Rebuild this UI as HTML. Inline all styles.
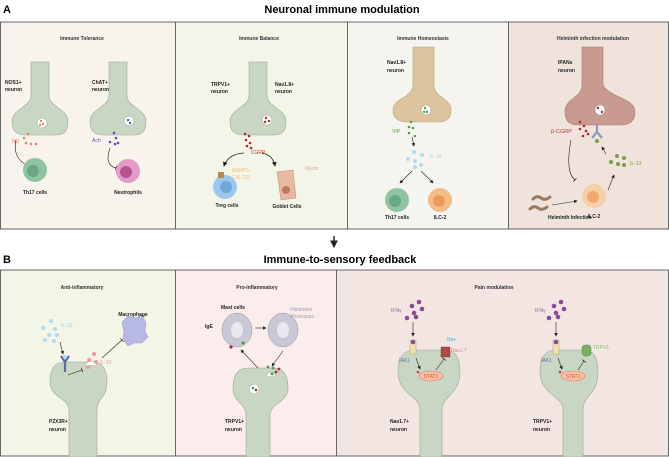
<!DOCTYPE html>
<html><head><meta charset="utf-8"><style>
html,body{margin:0;padding:0;background:#fff}
svg{display:block;font-family:"Liberation Sans",Arial,sans-serif}
.t{font-size:5px;font-weight:bold;fill:#222}
.h{font-size:5px;font-weight:bold;fill:#333}
</style></head><body>
<svg width="669" height="457" viewBox="0 0 669 457" xmlns="http://www.w3.org/2000/svg">
<defs>
<marker id="ar" markerWidth="6" markerHeight="6" refX="5" refY="3" orient="auto"><path d="M0,0 L6,3 L0,6 Z" fill="#222"/></marker>
<marker id="tb" markerWidth="4" markerHeight="8" refX="2" refY="4" orient="auto"><path d="M2,0 L2,8" stroke="#222" stroke-width="1.2"/></marker>
</defs>
<text x="3" y="13" font-size="11" font-weight="bold">A</text>
<text x="342" y="13" font-size="11" font-weight="bold" text-anchor="middle">Neuronal immune modulation</text>
<line x1="334" y1="236" x2="334" y2="247" stroke="#111" stroke-width="1.3" marker-end="url(#ar)"/>
<text x="3" y="263" font-size="11" font-weight="bold">B</text>
<text x="340" y="263" font-size="11" font-weight="bold" text-anchor="middle">Immune-to-sensory feedback</text>

<rect x="0.5" y="22" width="175" height="207" fill="#f8f3ec" stroke="#666"/>
<rect x="175.5" y="22" width="172" height="207" fill="#f4f5e9" stroke="#666"/>
<rect x="347.5" y="22" width="161" height="207" fill="#f5f4ee" stroke="#666"/>
<rect x="508.5" y="22" width="160" height="207" fill="#efe3dc" stroke="#666"/>
<rect x="0.5" y="270" width="175" height="186" fill="#f3f5e6" stroke="#666"/>
<rect x="175.5" y="270" width="161" height="186" fill="#fbedeb" stroke="#666"/>
<rect x="336.5" y="270" width="332" height="186" fill="#f2e5e2" stroke="#666"/>

<text class="h" x="82" y="40" text-anchor="middle">Immune Tolerance</text>
<text class="h" x="259" y="40" text-anchor="middle">Immune Balance</text>
<text class="h" x="423" y="40" text-anchor="middle">Immune Homeostasis</text>
<text class="h" x="593" y="40" text-anchor="middle">Helminth infection modulation</text>
<text class="h" x="82" y="289" text-anchor="middle">Anti-inflammatory</text>
<text class="h" x="257" y="289" text-anchor="middle">Pro-inflammatory</text>
<text class="h" x="494" y="289" text-anchor="middle">Pain modulation</text>

<g stroke="#9aa894" stroke-width="0.6" fill="#c9d6c3">
<path d="M31,62 L31,95 C31,108 12,108 12,122 Q12,135 26,135 L56,135 Q68,135 68,122 C68,108 49,108 49,95 L49,62 Z"/>
<path d="M109,62 L109,95 C109,108 90,108 90,122 Q90,135 104,135 L134,135 Q146,135 146,122 C146,108 127,108 127,95 L127,62 Z"/>
<path d="M249,62 L249,95 C249,108 230,108 230,122 Q230,135 244,135 L274,135 Q286,135 286,122 C286,108 267,108 267,95 L267,62 Z"/>
</g>
<path d="M413,47 L413,85 C413,98 393,98 393,110 Q393,122 408,122 L438,122 Q451,122 451,110 C451,98 434,98 434,85 L434,47 Z" fill="#dcc49e" stroke="#b9a07a" stroke-width="0.6"/>
<path d="M582,47 L582,85 C582,98 565,98 565,112 Q565,125 578,125 L620,125 Q635,125 635,112 C635,98 610,98 603,85 L603,47 Z" fill="#c99a8f" stroke="#a87a70" stroke-width="0.6"/>
<g stroke="#9aa894" stroke-width="0.6" fill="#c9d6c3">
<path d="M69,457 L69,410 C69,398 50,398 50,382 Q50,362 65,362 L92,362 Q107,362 107,382 C107,398 97,398 97,410 L97,457 Z"/>
<path d="M246,457 L246,415 C246,403 233,403 233,388 Q233,368 248,368 L273,368 Q288,368 288,388 C288,403 270,403 270,415 L270,457 Z"/>
<path d="M420,457 L420,410 C420,395 398,395 398,372 Q398,350 415,350 L445,350 Q460,350 460,372 C460,395 442,395 442,410 L442,457 Z"/>
<path d="M563,457 L563,410 C563,395 540,395 540,372 Q540,350 556,350 L584,350 Q598,350 598,372 C598,395 583,395 583,410 L583,457 Z"/>
</g>

<text class="t" x="5" y="84">NOS1+</text><text class="t" x="5" y="91">neuron</text>
<text class="t" x="92" y="84">ChAT+</text><text class="t" x="92" y="91">neuron</text>
<text class="t" x="211" y="86">TRPV1+</text><text class="t" x="211" y="93">neuron</text>
<text class="t" x="275" y="86">Nav1.8+</text><text class="t" x="275" y="93">neuron</text>
<text class="t" x="387" y="64">Nav1.8+</text><text class="t" x="387" y="72">neuron</text>
<text class="t" x="558" y="64">IPANs</text><text class="t" x="558" y="72">neuron</text>
<text class="t" x="49" y="423">P2X3R+</text><text class="t" x="49" y="431">neuron</text>
<text class="t" x="225" y="423">TRPV1+</text><text class="t" x="225" y="431">neuron</text>
<text class="t" x="390" y="423">Nav1.7+</text><text class="t" x="390" y="431">neuron</text>
<text class="t" x="533" y="423">TRPV1+</text><text class="t" x="533" y="431">neuron</text>

<g fill="#fff" stroke="#999" stroke-width="0.5">
<circle cx="42" cy="123" r="5"/><circle cx="129" cy="121" r="5"/><circle cx="267" cy="120" r="5"/>
<circle cx="426" cy="110" r="5"/><circle cx="600" cy="110" r="5"/>
<circle cx="254" cy="389" r="5"/>
</g>
<g fill="#e8875a"><circle cx="41" cy="121" r="1.2"/><circle cx="43" cy="124" r="1.2"/><circle cx="40" cy="125" r="1.2"/>
<circle cx="28" cy="134" r="1.3"/><circle cx="24" cy="138" r="1.3"/><circle cx="26" cy="143" r="1.3"/><circle cx="31" cy="144" r="1.3"/><circle cx="36" cy="144" r="1.3"/></g>
<text x="12" y="143" font-size="5" fill="#e8875a">NO</text>
<g fill="#4a55c0"><circle cx="128" cy="120" r="1.2"/><circle cx="130" cy="123" r="1.2"/>
<circle cx="114" cy="133" r="1.3"/><circle cx="116" cy="138" r="1.3"/><circle cx="110" cy="142" r="1.3"/><circle cx="115" cy="144" r="1.3"/><circle cx="118" cy="143" r="1.3"/></g>
<text x="92" y="142" font-size="5" fill="#4a55c0">Ach</text>
<g fill="#b02a2a"><circle cx="266" cy="118" r="1.2"/><circle cx="269" cy="121" r="1.2"/><circle cx="265" cy="122" r="1.2"/>
<circle cx="245" cy="134" r="1.3"/><circle cx="249" cy="136" r="1.3"/><circle cx="246" cy="140" r="1.3"/><circle cx="250" cy="143" r="1.3"/><circle cx="247" cy="146" r="1.3"/><circle cx="251" cy="148" r="1.3"/></g>
<text x="258" y="154" font-size="5" fill="#c0392b" text-anchor="middle">CGRP</text>
<g fill="#5aa040"><circle cx="425" cy="108" r="1.2"/><circle cx="427" cy="112" r="1.2"/><circle cx="424" cy="112" r="1.2"/>
<circle cx="411" cy="122" r="1.3"/><circle cx="409" cy="127" r="1.3"/><circle cx="413" cy="128" r="1.3"/><circle cx="409" cy="133" r="1.3"/><circle cx="415" cy="136" r="1.3"/></g>
<text x="392" y="133" font-size="5" fill="#5aa040">VIP</text>
<g fill="#aedcf0"><circle cx="414" cy="152" r="2"/><circle cx="422" cy="155" r="2"/><circle cx="408" cy="159" r="2"/><circle cx="415" cy="161" r="2"/><circle cx="415" cy="167" r="2"/><circle cx="421" cy="165" r="2"/></g>
<text x="430" y="158" font-size="5" fill="#9ad0ea">IL-10</text>
<line x1="412" y1="137" x2="414" y2="146" stroke="#222" stroke-width="0.6" marker-end="url(#ar)"/>
<line x1="412" y1="171" x2="400" y2="183" stroke="#222" stroke-width="0.6" marker-end="url(#ar)"/>
<line x1="421" y1="171" x2="433" y2="183" stroke="#222" stroke-width="0.6" marker-end="url(#ar)"/>

<path d="M16,140 Q12,158 28,166" fill="none" stroke="#222" stroke-width="0.6" marker-end="url(#tb)"/>
<circle cx="35" cy="170" r="12" fill="#8fc4a0"/><circle cx="33" cy="171" r="6" fill="#6aa884"/>
<text class="t" x="35" y="194" text-anchor="middle">Th17 cells</text>
<path d="M110,148 Q104,165 116,168" fill="none" stroke="#222" stroke-width="0.6" marker-end="url(#tb)"/>
<circle cx="128" cy="171" r="12" fill="#e49cc6"/><circle cx="126" cy="172" r="6" fill="#b5558f"/>
<text class="t" x="128" y="194" text-anchor="middle">Neutrophils</text>

<path d="M244,153 Q228,154 224,166" fill="none" stroke="#222" stroke-width="0.8" marker-end="url(#ar)"/>
<path d="M262,153 Q273,155 275,166" fill="none" stroke="#222" stroke-width="0.8" marker-end="url(#ar)"/>
<circle cx="225" cy="187" r="12" fill="#9dc7ee"/><circle cx="226" cy="187" r="6" fill="#6fa6db"/>
<rect x="218" y="172" width="6" height="6" fill="#b88a4a"/>
<text x="232" y="172" font-size="5" fill="#f0c080">RAMP1</text><text x="232" y="179" font-size="5" fill="#f0c080">CALCRL</text>
<text class="t" x="227" y="207" text-anchor="middle">Treg cells</text>
<path d="M277,172 L293,170 L296,198 L281,200 Z" fill="#e8b9a2" stroke="#c08a70" stroke-width="0.5"/><circle cx="286" cy="190" r="4" fill="#c0785a"/>
<text x="305" y="170" font-size="5" fill="#e0a5a0">Mucin</text>
<text class="t" x="287" y="208" text-anchor="middle">Goblet Cells</text>

<circle cx="397" cy="200" r="12" fill="#8fc4a0"/><circle cx="395" cy="201" r="6" fill="#6aa884"/>
<text class="t" x="397" y="219" text-anchor="middle">Th17 cells</text>
<circle cx="440" cy="200" r="12" fill="#f6bc8a"/><circle cx="439" cy="201" r="6" fill="#ef9a5a"/>
<text class="t" x="440" y="219" text-anchor="middle">ILC-2</text>

<g fill="#b02a2a"><circle cx="598" cy="108" r="1.2"/><circle cx="602" cy="112" r="1.2"/>
<circle cx="580" cy="122" r="1.3"/><circle cx="584" cy="126" r="1.3"/><circle cx="580" cy="129" r="1.3"/><circle cx="586" cy="131" r="1.3"/><circle cx="583" cy="136" r="1.3"/><circle cx="588" cy="134" r="1.3"/></g>
<text x="551" y="133" font-size="5.5" fill="#c0392b">β-CGRP</text>
<path d="M597,124 L597,132 L592,138 M597,132 L602,138" stroke="#8a9ab8" stroke-width="2.2" fill="none"/>
<circle cx="597" cy="141" r="2" fill="#7aa040"/>
<g fill="#7aa040"><circle cx="617" cy="156" r="2"/><circle cx="624" cy="158" r="2"/><circle cx="611" cy="162" r="2"/><circle cx="618" cy="164" r="2"/><circle cx="624" cy="165" r="2"/></g>
<text x="630" y="165" font-size="5" fill="#7aa040">IL-13</text>
<path d="M571,140 Q565,172 575,180" fill="none" stroke="#222" stroke-width="0.6" marker-end="url(#tb)"/>
<line x1="606" y1="154" x2="602" y2="147" stroke="#222" stroke-width="0.6" marker-end="url(#ar)"/>
<line x1="608" y1="190" x2="614" y2="175" stroke="#222" stroke-width="0.6" marker-end="url(#ar)"/>
<circle cx="594" cy="196" r="12" fill="#f6d0a8"/><circle cx="593" cy="197" r="6" fill="#efa870"/>
<text class="t" x="594" y="218" text-anchor="middle">ILC-2</text>
<path d="M533,199 q4,-4 8,-1 q4,3 9,-1" stroke="#9a7a60" stroke-width="3" fill="none" stroke-linecap="round"/>
<path d="M530,209 q4,-4 8,-1 q4,3 9,-1" stroke="#9a7a60" stroke-width="3" fill="none" stroke-linecap="round"/>
<line x1="552" y1="205" x2="577" y2="201" stroke="#222" stroke-width="0.6" marker-end="url(#ar)"/>
<text class="t" x="548" y="219">Helminth Infection</text>

<g fill="#aedcf0"><circle cx="51" cy="321" r="2"/><circle cx="43" cy="328" r="2"/><circle cx="55" cy="329" r="2"/><circle cx="49" cy="335" r="2"/><circle cx="57" cy="335" r="2"/><circle cx="45" cy="340" r="2"/><circle cx="54" cy="341" r="2"/></g>
<text x="61" y="327" font-size="5" fill="#9ad0ea">IL-10</text>
<line x1="60" y1="342" x2="63" y2="354" stroke="#222" stroke-width="0.6" marker-end="url(#ar)"/>
<path d="M61,356 L65,362 L65,372 M69,356 L65,362" stroke="#5a6aa8" stroke-width="2.2" fill="none"/>
<circle cx="65" cy="357" r="2" fill="#aedcf0"/>
<line x1="68" y1="375" x2="82" y2="370" stroke="#222" stroke-width="0.6" marker-end="url(#tb)"/>
<path d="M85,365 q6,-8 12,0" fill="#fff" stroke="#999" stroke-width="0.5"/>
<g fill="#f09a9a"><circle cx="94" cy="354" r="2"/><circle cx="89" cy="360" r="2"/><circle cx="96" cy="362" r="2"/><circle cx="88" cy="367" r="2"/></g>
<text x="100" y="364" font-size="5" fill="#f09a9a">IL-10</text>
<line x1="102" y1="358" x2="122" y2="340" stroke="#222" stroke-width="0.6" marker-end="url(#tb)"/>
<path d="M122,322 l6,-6 l8,2 l6,-3 l4,8 l-1,8 l3,6 l-6,6 l-8,0 l-6,3 l-5,-7 l1,-7 Z" fill="#b8b8e6" stroke="#9494c8" stroke-width="0.5"/>
<text class="t" x="133" y="316" text-anchor="middle">Macrophage</text>

<text class="t" x="221" y="309">Mast cells</text>
<text class="t" x="205" y="328">IgE</text>
<ellipse cx="237" cy="330" rx="15" ry="17" fill="#c8c8d6" stroke="#999" stroke-width="0.5"/><ellipse cx="237" cy="330" rx="6" ry="8" fill="#e8e8f0"/>
<ellipse cx="283" cy="330" rx="15" ry="17" fill="#c8c8d6" stroke="#999" stroke-width="0.5"/><ellipse cx="283" cy="330" rx="6" ry="8" fill="#e8e8f0"/>
<text x="290" y="311" font-size="5" fill="#9a9ab8">Histamine</text><text x="290" y="318" font-size="5" fill="#9a9ab8">/Proteases</text>
<line x1="255" y1="328" x2="266" y2="328" stroke="#222" stroke-width="0.6" marker-end="url(#ar)"/>
<line x1="258" y1="368" x2="241" y2="350" stroke="#222" stroke-width="0.6" marker-end="url(#ar)"/>
<line x1="283" y1="351" x2="272" y2="366" stroke="#222" stroke-width="0.6" marker-end="url(#ar)"/>
<circle cx="231" cy="347" r="1.6" fill="#b02a2a"/><circle cx="243" cy="343" r="1.6" fill="#3aa050"/>
<path d="M266,376 q5,-8 10,0" fill="#fff" stroke="#999" stroke-width="0.5"/>
<circle cx="268" cy="367" r="1.4" fill="#3aa050"/><circle cx="273" cy="368" r="1.4" fill="#3aa050"/><circle cx="276" cy="372" r="1.4" fill="#b02a2a"/><circle cx="279" cy="369" r="1.4" fill="#b02a2a"/><circle cx="272" cy="374" r="1.4" fill="#3aa050"/>
<circle cx="253" cy="388" r="1.3" fill="#3aa050"/><circle cx="256" cy="390" r="1.3" fill="#b02a2a"/>

<g fill="#8a4a9a"><circle cx="419" cy="302" r="2.3"/><circle cx="412" cy="306" r="2.3"/><circle cx="414" cy="313" r="2.3"/><circle cx="422" cy="309" r="2.3"/><circle cx="407" cy="318" r="2.3"/><circle cx="416" cy="317" r="2.3"/>
<circle cx="561" cy="302" r="2.3"/><circle cx="554" cy="306" r="2.3"/><circle cx="556" cy="313" r="2.3"/><circle cx="564" cy="309" r="2.3"/><circle cx="549" cy="318" r="2.3"/><circle cx="558" cy="317" r="2.3"/></g>
<text x="391" y="312" font-size="5" fill="#9a6aa8">IFNγ</text>
<text x="535" y="312" font-size="5" fill="#9a6aa8">IFNγ</text>
<line x1="413" y1="322" x2="413" y2="336" stroke="#222" stroke-width="0.6" marker-end="url(#ar)"/>
<line x1="556" y1="322" x2="556" y2="336" stroke="#222" stroke-width="0.6" marker-end="url(#ar)"/>
<g fill="#efe0b0" stroke="#b09a60" stroke-width="0.4">
<rect x="410" y="340" width="6" height="14"/><rect x="553" y="340" width="6" height="14"/></g>
<circle cx="413" cy="342" r="2.3" fill="#8a4a9a"/><circle cx="556" cy="342" r="2.3" fill="#8a4a9a"/>
<text x="398" y="362" font-size="5" fill="#5a7aa0">JAK1</text><text x="540" y="362" font-size="5" fill="#5a7aa0">JAK1</text>
<ellipse cx="431" cy="376" rx="12" ry="5" fill="#f6c0a8" stroke="#e07a60" stroke-width="0.6"/><text x="431" y="378" font-size="5" fill="#d05a40" text-anchor="middle">STAT1</text>
<ellipse cx="573" cy="376" rx="12" ry="5" fill="#f6c0a8" stroke="#e07a60" stroke-width="0.6"/><text x="573" y="378" font-size="5" fill="#d05a40" text-anchor="middle">STAT1</text>
<circle cx="418" cy="372" r="1.3" fill="#d0402a"/><circle cx="560" cy="372" r="1.3" fill="#d0402a"/>
<line x1="416" y1="358" x2="420" y2="369" stroke="#222" stroke-width="0.6" marker-end="url(#ar)"/>
<line x1="436" y1="370" x2="444" y2="359" stroke="#222" stroke-width="0.6" marker-end="url(#tb)"/>
<line x1="558" y1="358" x2="562" y2="369" stroke="#222" stroke-width="0.6" marker-end="url(#ar)"/>
<line x1="578" y1="370" x2="584" y2="361" stroke="#222" stroke-width="0.6" marker-end="url(#tb)"/>
<rect x="441" y="347" width="9" height="10" fill="#b04a4a" stroke="#7a2a2a" stroke-width="0.4"/>
<text x="447" y="341" font-size="5" fill="#4ab0e0">Na+</text>
<text x="451" y="352" font-size="5" fill="#e08a8a">Nav1.7</text>
<rect x="582" y="345" width="9" height="11" rx="3" fill="#7ab060" stroke="#4a8040" stroke-width="0.4"/>
<text x="593" y="349" font-size="5" fill="#8ac070">TRPV1</text>
</svg>
</body></html>
